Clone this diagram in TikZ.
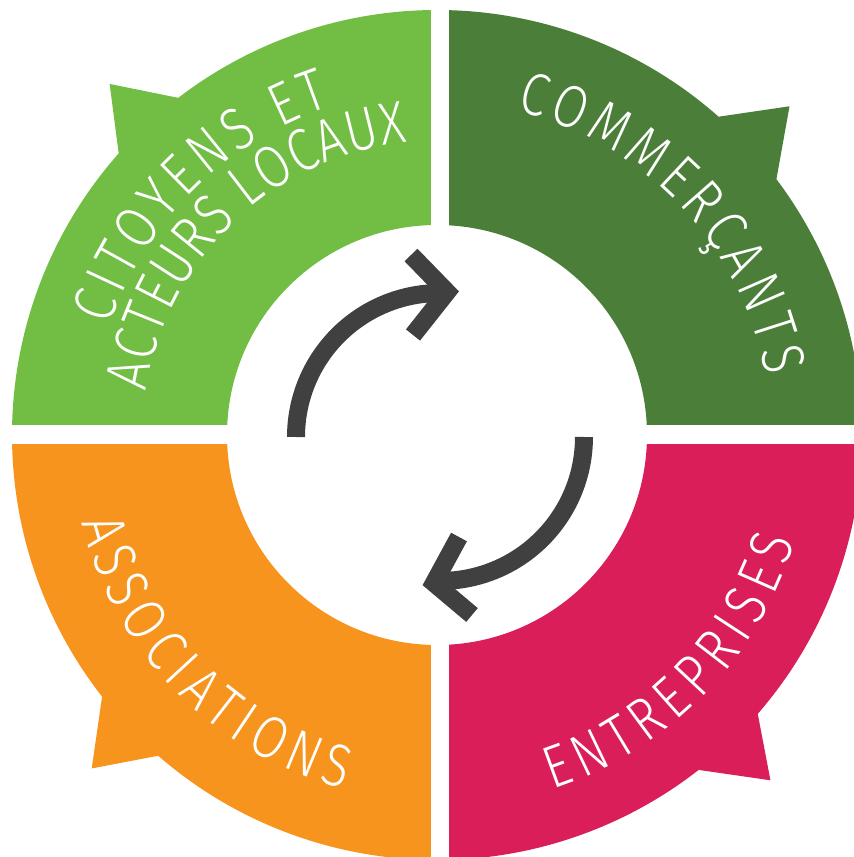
\documentclass[tikz,border=0pt]{standalone}
\usepackage{fontspec}
\usepackage{xcolor}
\usepackage{tikz}
\usetikzlibrary{decorations.text}
\newfontfamily\labfont{Fira Sans Light}[FakeStretch=0.82]
\newcommand\labsize{\labfont\fontsize{60}{64}\selectfont}
\definecolor{citgreen}{HTML}{72BE44}
\definecolor{comgreen}{HTML}{4B7F39}
\definecolor{assorange}{HTML}{F7941E}
\definecolor{entpink}{HTML}{D91E5A}
\definecolor{arrowgray}{HTML}{404040}

\begin{document}
\begin{tikzpicture}[x=1pt, y=1pt,
    turnarrow/.style={draw=arrowgray, line width=18pt, line cap=butt, line join=miter},
    curvelabel/.style={decorate, decoration={text along path, text align=fit to path,
        text color=white, text={|\labsize|#1}}}]
    \useasboundingbox (-437,-422) rectangle (417,435);
    \coordinate (hub) at (3,-2);

    % Draw the four quarters, each with its tab
    \fill[citgreen] (90:210) -- (90:425) arc[start angle=90, end angle=127.5, radius=425]
        -- (133:480) -- (138.5:425) arc[start angle=138.5, end angle=180, radius=425]
        -- (180:210) arc[start angle=180, end angle=90, radius=210] -- cycle;
    \fill[comgreen] (0:210) -- (0:425) arc[start angle=0, end angle=37, radius=425]
        -- (43:482) -- (48.5:425) arc[start angle=48.5, end angle=90, radius=425]
        -- (90:210) arc[start angle=90, end angle=0, radius=210] -- cycle;
    \fill[assorange] (180:210) -- (180:425) arc[start angle=180, end angle=218, radius=425]
        -- (224:480) -- (229:425) arc[start angle=229, end angle=270, radius=425]
        -- (270:210) arc[start angle=270, end angle=180, radius=210] -- cycle;
    \fill[entpink] (270:210) -- (270:425) arc[start angle=270, end angle=308, radius=425]
        -- (314:480) -- (319:425) arc[start angle=319, end angle=360, radius=425]
        -- (360:210) arc[start angle=360, end angle=270, radius=210] -- cycle;

    % White gaps between the quarters
    \fill[white] (-6,-440) rectangle (12,450);
    \fill[white] (-450,-9) rectangle (430,10);

    % Labels along the ring
    \path[curvelabel={CITOYENS ET}] (161.5:345) arc[start angle=161.5, end angle=108, radius=345];
    \path[curvelabel={ACTEURS LOCAUX}] (171.5:294) arc[start angle=171.5, end angle=95.7, radius=294];
    \path[curvelabel={COMMERÇANTS}] (76.3:334) arc[start angle=76.3, end angle=10.2, radius=334];
    \path[curvelabel={ASSOCIATIONS}] (193.8:366) arc[start angle=193.8, end angle=255.3, radius=366];
    \path[curvelabel={ENTREPRISES}] (-71.9:373) arc[start angle=-71.9, end angle=-16.6, radius=373];

    % Turning arrows in the middle
    \draw[turnarrow] (hub) ++(180:144) arc[start angle=180, end angle=87, radius=144];
    \draw[turnarrow] (-26,180) -- (10,143) -- (-24,100);
    \draw[turnarrow] (hub) ++(0:144) arc[start angle=0, end angle=-92.5, radius=144];
    \draw[turnarrow] (22,-102) -- (-3,-148) -- (35,-180);
\end{tikzpicture}
\end{document}
